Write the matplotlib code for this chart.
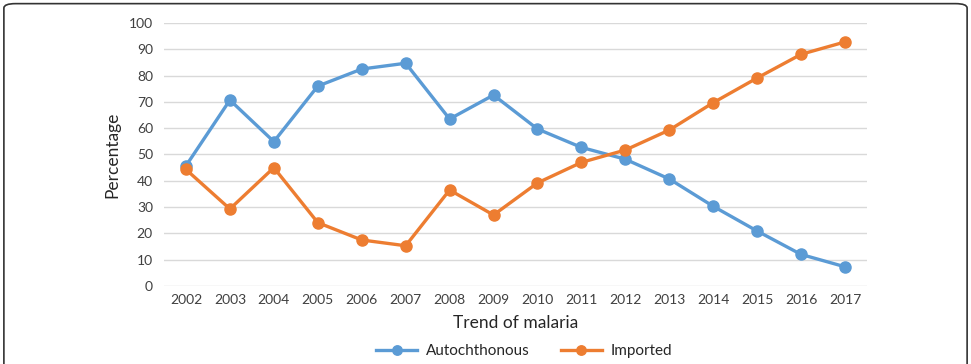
import matplotlib.pyplot as plt
from matplotlib.patches import FancyBboxPatch
import numpy as np

plt.rcParams['font.family'] = ['Lato', 'DejaVu Sans']

years = ['2002', '2003', '2004', '2005', '2006', '2007', '2008', '2009',
         '2010', '2011', '2012', '2013', '2014', '2015', '2016', '2017']
autochthonous = [45.7, 70.7, 54.9, 76.0, 82.5, 84.7, 63.5, 72.6,
                 59.7, 52.7, 48.2, 40.7, 30.3, 20.9, 12.0, 7.3]
imported = [44.3, 29.3, 45.0, 24.1, 17.5, 15.3, 36.5, 27.0,
            39.2, 47.0, 51.7, 59.3, 69.7, 79.1, 88.1, 92.8]

blue = '#5B9BD5'
orange = '#ED7D31'

fig = plt.figure(figsize=(9.71, 3.64), dpi=100)
ax = fig.add_axes([0.1689, 0.2143, 0.724, 0.7225])

x = np.arange(len(years))
ax.plot(x, autochthonous, color=blue, lw=2.4, marker='o', ms=8, label='Autochthonous')
ax.plot(x, imported, color=orange, lw=2.4, marker='o', ms=8, label='Imported')

ax.set_xlim(-0.5, len(years) - 0.5)
ax.set_ylim(0, 100)
ax.set_yticks(range(0, 101, 10))
ax.set_xticks(x)
ax.set_xticklabels(years)
ax.tick_params(length=0, labelsize=10, colors='#404040', pad=6)
ax.tick_params(axis='y', pad=8)
ax.grid(axis='y', color='#D9D9D9', lw=1)
ax.set_axisbelow(True)
for s in ax.spines.values():
    s.set_visible(False)

ax.set_xlabel('Trend of malaria', fontsize=12.5, color='#262626', labelpad=6)
ax.set_ylabel('Percentage', fontsize=12.5, color='#262626', labelpad=6)

fig.legend(loc='center', bbox_to_anchor=(0.54, 0.036), ncol=2, frameon=False,
           fontsize=11, handlelength=2.7, columnspacing=2.0, handletextpad=0.6,
           markerscale=0.85, labelcolor='#262626')

border = FancyBboxPatch((0.004, -0.1), 0.992, 1.09, boxstyle='round,pad=0,rounding_size=0.012',
                        transform=fig.transFigure, fill=False, ec='#333333', lw=1.2)
fig.patches.append(border)

fig.savefig('out.png', dpi=100)
